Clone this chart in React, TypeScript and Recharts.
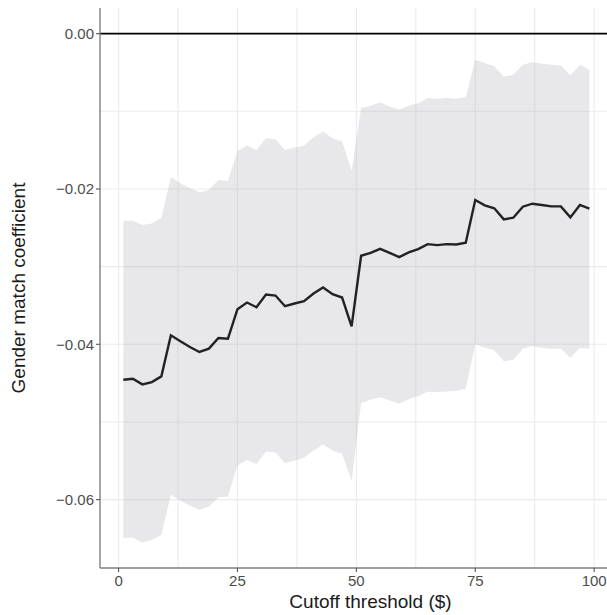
import React from 'react';
import { ComposedChart, Area, Line, XAxis, YAxis, CartesianGrid, ReferenceLine } from 'recharts';

const cutoffs = [1, 3, 5, 7, 9, 11, 13, 15, 17, 19, 21, 23, 25, 27, 29, 31, 33, 35, 37, 39, 41, 43, 45, 47, 49,
  51, 53, 55, 57, 59, 61, 63, 65, 67, 69, 71, 73, 75, 77, 79, 81, 83, 85, 87, 89, 91, 93, 95, 97, 99];

const coef = [
  -0.04456, -0.04443, -0.04516, -0.04486, -0.04413, -0.03884, -0.03961, -0.04034, -0.04099, -0.04056, -0.03918, -0.03927,
  -0.03548, -0.03462, -0.03523, -0.03359, -0.03372, -0.0351, -0.03475, -0.03445, -0.03346, -0.03269, -0.03355, -0.03398, -0.03768,
  -0.0286, -0.02822, -0.0277, -0.02822, -0.02877, -0.02817, -0.02774, -0.0271, -0.02723, -0.0271, -0.02714, -0.02693,
  -0.02142, -0.02211, -0.02249, -0.02391, -0.0237, -0.02228, -0.0219, -0.02206, -0.02224, -0.02224, -0.02366, -0.02206, -0.02254,
];

const upperCI = [
  -0.02413, -0.02409, -0.02465, -0.02443, -0.0237, -0.01849, -0.01927, -0.01991, -0.02043, -0.02013, -0.01884, -0.01893,
  -0.0151, -0.01441, -0.01497, -0.01346, -0.01359, -0.01497, -0.01467, -0.01441, -0.01333, -0.0126, -0.01346, -0.0139, -0.01764,
  -0.00959, -0.00929, -0.00882, -0.00938, -0.00981, -0.00929, -0.00895, -0.0083, -0.00839, -0.0083, -0.00839, -0.00817,
  -0.00335, -0.00378, -0.00421, -0.00551, -0.00529, -0.004, -0.0037, -0.00387, -0.004, -0.00409, -0.00538, -0.004, -0.00465,
];

const lowerCI = [
  -0.06494, -0.06486, -0.06551, -0.0652, -0.06452, -0.05935, -0.06013, -0.06077, -0.06133, -0.0609, -0.0597, -0.05961,
  -0.05561, -0.05488, -0.0554, -0.05381, -0.05394, -0.05531, -0.05497, -0.05462, -0.05368, -0.0529, -0.05368, -0.05411, -0.05764,
  -0.04753, -0.04714, -0.0468, -0.04723, -0.04766, -0.04706, -0.04667, -0.04611, -0.04615, -0.04606, -0.04602, -0.04572,
  -0.04, -0.04043, -0.04077, -0.04219, -0.04198, -0.04056, -0.04022, -0.04043, -0.04056, -0.04056, -0.04177, -0.04043, -0.04056,
];

const xTicks = [0, 25, 50, 75, 100];
const yTicks = [0, -0.02, -0.04, -0.06];
const xGrid = [0, 12.5, 25, 37.5, 50, 62.5, 75, 87.5, 100];
const yGrid = [0, -0.01, -0.02, -0.03, -0.04, -0.05, -0.06];
const xDomain = [-3.9, 102.7];
const yDomain = [-0.0688, 0.0033];

const data = cutoffs.map((x, i) => ({ x, coef: coef[i], band: [lowerCI[i], upperCI[i]] }));

const FONT = '"Liberation Sans", Arial, Helvetica, sans-serif';

const fmtY = (v: number) => (v === 0 ? '0.00' : (v < 0 ? '\u2212' : '') + Math.abs(v).toFixed(2));

const XTitle = (props: any) => {
  const vb = props.viewBox || { x: 100, y: 568, width: 507, height: 47 };
  return (
    <text x={vb.x + vb.width / 2 + 17} y={vb.y + 40} textAnchor="middle" fontSize={19} fill="#1a1a1a" fontFamily={FONT}>
      Cutoff threshold ($)
    </text>
  );
};

const YTitle = (props: any) => {
  const vb = props.viewBox || { x: 0, y: 8, width: 100, height: 560 };
  const cx = vb.x + 18;
  const cy = vb.y + vb.height / 2;
  return (
    <text x={cx} y={cy} transform={`rotate(-90, ${cx}, ${cy})`} textAnchor="middle" dominantBaseline="central" fontSize={19} fill="#1a1a1a" fontFamily={FONT}>
      Gender match coefficient
    </text>
  );
};

export default function App() {
  return (
    <div style={{ position: 'absolute', left: 0, top: 0, width: 607, height: 615, overflow: 'hidden', background: '#fff' }}>
      <ComposedChart width={607} height={615} data={data} margin={{ top: 8, right: 0, bottom: 0, left: 0 }}>
        <CartesianGrid stroke="#ebebeb" strokeWidth={1.1} horizontalValues={yGrid} verticalValues={xGrid} />
        <XAxis
          dataKey="x"
          type="number"
          domain={xDomain}
          ticks={xTicks}
          allowDataOverflow
          height={47}
          tickSize={4}
          tickMargin={3}
          tickLine={{ stroke: '#555', strokeWidth: 1.1 }}
          axisLine={{ stroke: '#7f7f7f', strokeWidth: 1.4 }}
          tick={{ fill: '#4d4d4d', fontSize: 15, fontFamily: FONT }}
          label={<XTitle />}
        />
        <XAxis
          xAxisId="top"
          orientation="top"
          dataKey="x"
          type="number"
          domain={xDomain}
          allowDataOverflow
          height={0}
          tick={false}
          tickLine={false}
          axisLine={{ stroke: '#7f7f7f', strokeWidth: 1.4 }}
        />
        <YAxis
          type="number"
          domain={yDomain}
          ticks={yTicks}
          allowDataOverflow
          width={100}
          tickSize={4}
          tickMargin={2}
          tickFormatter={fmtY}
          tickLine={{ stroke: '#555', strokeWidth: 1.1 }}
          axisLine={{ stroke: '#7f7f7f', strokeWidth: 1.4 }}
          tick={{ fill: '#4d4d4d', fontSize: 15, fontFamily: FONT }}
          label={<YTitle />}
        />
        <Area
          dataKey="band"
          type="linear"
          stroke="none"
          fill="#b3b3ba"
          fillOpacity={0.3}
          isAnimationActive={false}
          activeDot={false}
          dot={false}
        />
        <ReferenceLine y={0} stroke="#000" strokeWidth={1.7} />
        <Line
          dataKey="coef"
          type="linear"
          stroke="#222"
          strokeWidth={2.4}
          dot={false}
          activeDot={false}
          isAnimationActive={false}
        />
      </ComposedChart>
    </div>
  );
}
